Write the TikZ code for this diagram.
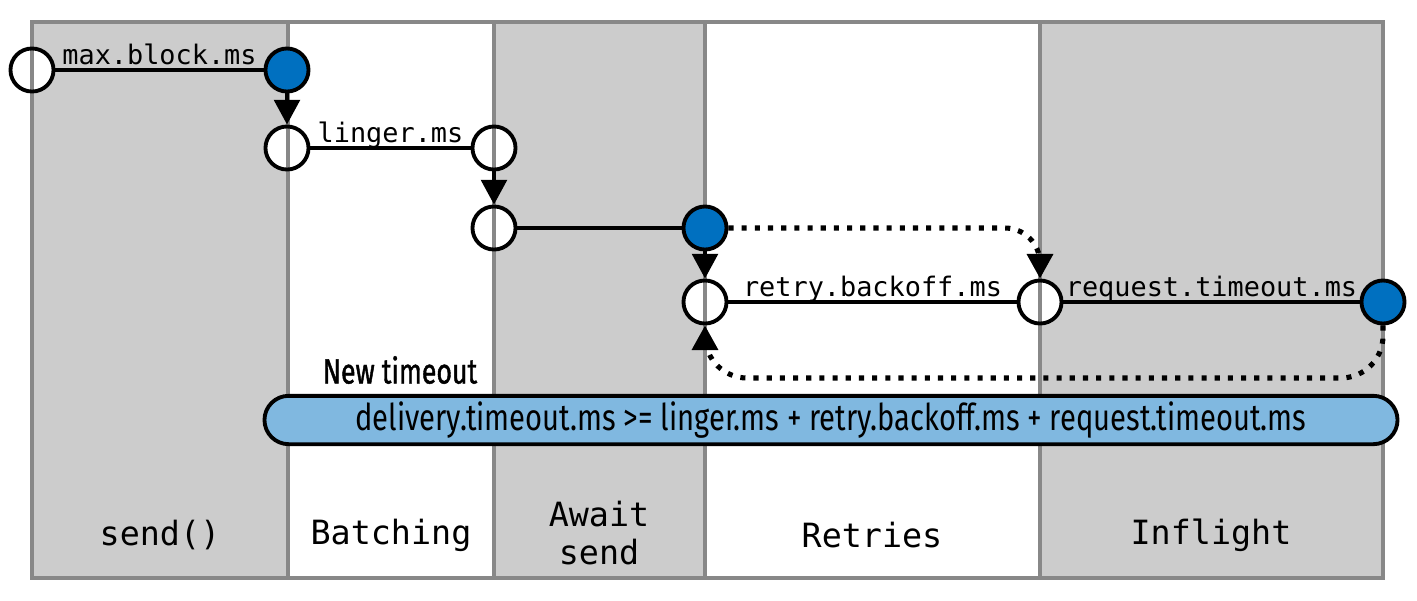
\documentclass[tikz,border=0pt]{standalone}
\usepackage{fontspec}
\setmonofont{DejaVu Sans Mono}
\newfontfamily\condfont[FakeStretch=0.79]{Fira Sans}
\newfontfamily\condbold[FakeStretch=0.76,FakeBold=1.2]{Fira Sans}
\usetikzlibrary{arrows.meta, shapes.misc}
\definecolor{lanegray}{HTML}{CCCCCC}
\definecolor{laneedge}{HTML}{888888}
\definecolor{eventblue}{HTML}{0070C0}
\definecolor{rulefill}{HTML}{80B8E0}
\tikzset{
  lane/.style={draw=laneedge, line width=2.8pt},
  disc/.style={circle, fill=white, line width=2.2pt, minimum size=24.5pt, inner sep=0pt},
  ring/.style={line width=2.2pt},
  event/.style={disc, draw=black, fill=eventblue},
  timer/.style={line width=2.2pt},
  arrow/.style={line width=2.2pt, -{Triangle[length=14pt, width=14.5pt]}},
  dotarrow/.style={arrow, line width=2.9pt, dash pattern=on 2.9pt off 4.6pt, rounded corners=20pt},
  param/.style={font=\ttfamily\fontsize{15.3}{17}\selectfont, above, text depth=0pt, inner sep=2pt},
  phase/.style={font=\ttfamily\fontsize{19}{22}\selectfont, align=center},
  rulebox/.style={rounded rectangle, draw=black, fill=rulefill, line width=2.2pt, minimum width=22.9cm, minimum height=0.92cm, font=\condfont\fontsize{21}{24}\selectfont}
}
\begin{document}
\begin{tikzpicture}[x=0.02cm, y=-0.02cm]
  \useasboundingbox (0,0) rectangle (1417,600);

  % lanes
  \foreach \l/\r/\c in {32/288/lanegray, 288/494/white, 494/705/lanegray, 705/1040/white, 1040/1383/lanegray}
    \fill[\c] (\l,22) rectangle (\r,578);

  % start/stop points
  \node (a) [disc] at (32,70) {};
  \node (c) [disc] at (287,148) {};
  \node (d) [disc] at (494,148) {};
  \node (e) [disc] at (494,228) {};
  \node (g) [disc] at (705,302) {};
  \node (h) [disc] at (1040,302) {};

  \foreach \l/\r in {32/288, 288/494, 494/705, 705/1040, 1040/1383}
    \draw[lane] (\l,22) rectangle (\r,578);
  \foreach \n in {a,c,d,e,g,h}
    \draw[ring] (\n) circle (12.25pt);

  \node (b) [event] at (287,70) {};
  \node (f) [event] at (705,228) {};
  \node (i) [event] at (1383,302) {};

  % timers
  \draw[timer] (a) -- node[param] {max.block.ms} (b);
  \draw[timer] (c) -- node[param] {linger.ms} (d);
  \draw[timer] (e) -- (f);
  \draw[timer] (g) -- node[param] {retry.backoff.ms} (h);
  \draw[timer] (h) -- node[param] {request.timeout.ms} (i);

  \draw[arrow] (b) -- (c);
  \draw[arrow] (d) -- (e);
  \draw[arrow] (f) -- (g);
  \draw[dotarrow] (f) -| (h);
  \draw[dotarrow, rounded corners=24pt] (i.south) |- (g.south |- 0,378) -- (g.south);

  % rule
  \node (rule) [rulebox] at (831,420) {delivery.timeout.ms >= linger.ms + retry.backoff.ms + request.timeout.ms};
  \node (newto) [font=\condbold\fontsize{20}{24}\selectfont] at (400,370) {New timeout};

  % phases
  \node (send) [phase] at (160,535) {send()};
  \node (batch) [phase] at (391,535) {Batching};
  \node (await) [phase] at (599,533) {Await\\send};
  \node (retry) [phase] at (872,535) {Retries};
  \node (flight) [phase] at (1211,535) {Inflight};
\end{tikzpicture}
\end{document}
